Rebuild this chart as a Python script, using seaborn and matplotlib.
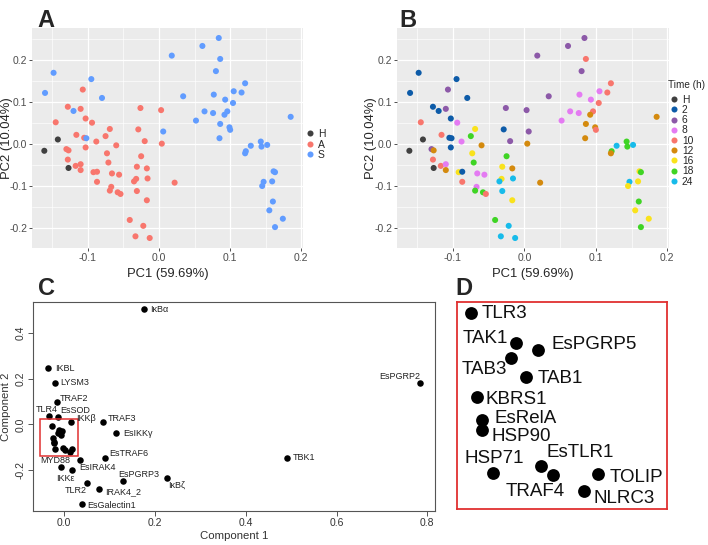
import numpy as np
import pandas as pd
import matplotlib
matplotlib.use("Agg")
import matplotlib.pyplot as plt
import seaborn as sns
from matplotlib.patches import Rectangle
from matplotlib.ticker import MultipleLocator, FormatStrFormatter

# ---------------- Data: PCA (panels A and B) ----------------
pc1 = [-0.142, -0.161, -0.127,
       -0.107, -0.128, -0.110, -0.026, 0.003, -0.145, -0.103, -0.094, -0.069, -0.029,
       -0.116, -0.105, -0.075, -0.088, -0.020, 0.004, -0.060, -0.103, -0.130, -0.127,
       -0.073, -0.025, -0.128, -0.071, -0.117, -0.110, -0.110, -0.031, -0.017, -0.092,
       -0.087, -0.066, -0.056, -0.087, -0.032, -0.035, -0.016, 0.022, -0.067, -0.069,
       -0.058, -0.054, -0.031, -0.017, -0.041, -0.022, -0.033, -0.013,
       0.018, -0.148, -0.095, -0.160, -0.080, -0.120, 0.006, -0.102,
       0.084, 0.061, 0.086, 0.080, 0.121, 0.034, 0.077, 0.105, 0.116, 0.093, 0.104,
       0.064, 0.076, 0.096, 0.092, 0.052, 0.185, 0.086, 0.099, 0.100, 0.085, 0.143,
       0.144, 0.152, 0.129, 0.122, 0.121, 0.161, 0.163, 0.147, 0.159, 0.145, 0.160,
       0.155, 0.174, 0.163]
pc2 = [0.011, -0.016, -0.057,
       0.130, 0.089, 0.084, 0.086, 0.081, 0.052, 0.061, 0.051, 0.036, 0.035,
       0.022, 0.015, 0.019, 0.006, 0.007, 0.001, -0.003, -0.008, -0.012, -0.015,
       -0.022, -0.029, -0.037, -0.044, -0.052, -0.048, -0.062, -0.054, -0.058, -0.067,
       -0.066, -0.070, -0.073, -0.090, -0.083, -0.089, -0.082, -0.092, -0.102, -0.111,
       -0.115, -0.119, -0.112, -0.134, -0.181, -0.195, -0.220, -0.224,
       0.211, 0.170, 0.155, 0.122, 0.110, 0.079, 0.030, 0.014,
       0.253, 0.234, 0.203, 0.174, 0.145, 0.114, 0.118, 0.126, 0.123, 0.106, 0.098,
       0.078, 0.074, 0.078, 0.070, 0.056, 0.065, 0.048, 0.040, 0.034, 0.014, 0.006,
       -0.006, -0.002, -0.004, -0.017, -0.022, -0.065, -0.067, -0.090, -0.089, -0.100,
       -0.137, -0.158, -0.178, -0.198]
group = (["H"] * 3) + (["A"] * 48) + (["S"] * 44)
time_h = ["H", "H", "H",
          "6", "2", "6", "6", "6", "10", "2", "8", "16", "2",
          "10", "2", "18", "8", "6", "12", "12", "2", "6", "12",
          "16", "18", "10", "18", "10", "8", "12", "16", "12", "16",
          "2", "8", "8", "10", "16", "24", "24", "12", "8", "18",
          "18", "10", "24", "16", "18", "24", "24", "24",
          "6", "2", "2", "2", "2", "2", "6", "2",
          "6", "6", "10", "6", "10", "6", "8", "8", "10", "8", "10",
          "8", "8", "10", "12", "8", "12", "12", "12", "10", "12", "18",
          "18", "24", "24", "18", "12", "16", "18", "24", "16", "16", "18",
          "16", "16", "18"]
group_levels = ["H", "A", "S"]
time_levels = ["H", "2", "6", "8", "10", "12", "16", "18", "24"]

# ---------------- Data: gene loadings (panel C) ----------------
genes_c = ["IκBα", "IKBL", "LYSM3", "TRAF2", "TLR4", "EsSOD", "IKKβ", "TRAF3", "EsIKKγ",
           "EsTRAF6", "MYD88", "IKKε", "EsIRAK4", "EsPGRP3", "IκBζ", "TLR2", "IRAK4_2",
           "EsGalectin1", "TBK1", "EsPGRP2"]
comp1_c = [0.176, -0.035, -0.021, -0.017, -0.033, -0.014, 0.015, 0.085, 0.115,
           0.089, 0.035, -0.007, 0.017, 0.129, 0.226, 0.049, 0.077,
           0.040, 0.491, 0.784]
comp2_c = [0.506, 0.247, 0.184, 0.098, 0.038, 0.032, 0.012, 0.012, -0.038,
           -0.148, -0.155, -0.187, -0.200, -0.247, -0.236, -0.255, -0.282,
           -0.348, -0.148, 0.184]

# ---------------- Data: zoomed cluster (panel D, also inside C box) ----------------
genes_z = ["TLR3", "TAK1", "EsPGRP5", "TAB3", "TAB1", "KBRS1", "EsRelA", "HSP90",
           "HSP71", "EsTLR1", "TRAF4", "TOLIP", "NLRC3"]
comp1_z = [-0.0272, -0.0116, -0.0041, -0.0134, -0.0082, -0.0252, -0.0233, -0.0233,
           -0.0197, -0.0029, 0.0012, 0.0169, 0.0120]
comp2_z = [-0.0073, -0.0263, -0.0304, -0.0357, -0.0478, -0.0604, -0.0753, -0.0813,
           -0.1090, -0.1043, -0.1099, -0.1093, -0.1201]

# ---------------- Styles / layout ----------------
GROUP_COLORS = {"H": "#404040", "A": "#F8766D", "S": "#619CFF"}
TIME_COLORS = {"H": "#404040", "2": "#0D5BA8", "6": "#8C59A8", "8": "#E47BF2",
               "10": "#F8766D", "12": "#D48A0E", "16": "#F9E21C", "18": "#3FD424",
               "24": "#17BBEA"}
ZOOM_BOX_X = (-0.0536, 0.0308)
ZOOM_BOX_Y = (-0.1361, 0.0219)
C_XLIM = (-0.069, 0.817)
C_YLIM = (-0.378, 0.537)
D_XLIM = (-0.0319, 0.0407)
D_YLIM = (-0.132, -0.0003)

# label offsets in pixels (dx, dy, ha)
C_LABEL_POS = {
    "IκBα": (5.7, 0, "left"), "IKBL": (6.3, 0, "left"), "LYSM3": (5.7, 0, "left"),
    "TRAF2": (3.3, 3.3, "left"), "TLR4": (-2.3, 6.3, "center"), "EsSOD": (2, 6.3, "left"),
    "IKKβ": (4.7, 3.3, "left"), "TRAF3": (5.3, 3.3, "left"), "EsIKKγ": (6.3, 0, "left"),
    "EsTRAF6": (4.3, 4.7, "left"), "MYD88": (-10, -1, "right"), "IKKε": (4, -11.3, "center"),
    "EsIRAK4": (7, 2.7, "left"), "EsPGRP3": (15.7, 6.7, "center"), "IκBζ": (9.3, -7, "center"),
    "TLR2": (-10.7, -8.3, "center"), "IRAK4_2": (5.7, -2.7, "left"),
    "EsGalectin1": (5, -1.3, "left"), "TBK1": (6, 0.7, "left"), "EsPGRP2": (-20.3, 6.3, "center"),
}
D_LABEL_POS = {
    "TLR3": (10.7, 0, "left"), "TAK1": (-7.7, 4.3, "right"), "EsPGRP5": (14, 5, "left"),
    "TAB3": (-4.3, -12, "right"), "TAB1": (11.3, -1.3, "left"), "KBRS1": (9.3, -2.7, "left"),
    "EsRelA": (12.7, 1.7, "left"), "HSP90": (9.3, -6.7, "left"), "HSP71": (1.7, 14.3, "center"),
    "EsTLR1": (5.3, 13.7, "left"), "TRAF4": (-18.3, -16.7, "center"), "TOLIP": (11, -4.3, "left"),
    "NLRC3": (9, -8.3, "left"),
}

sns.set_theme(style="darkgrid", rc={"axes.facecolor": "#EBEBEB", "grid.color": "white"})
plt.rcParams["font.family"] = ["Liberation Sans", "DejaVu Sans"]

W, H = 708, 545
fig = plt.figure(figsize=(W / 100, H / 100), dpi=100)
fig.patch.set_facecolor("white")


def fax(l, t, r, b):
    return fig.add_axes([l / W, 1 - b / H, (r - l) / W, (b - t) / H])


df = pd.DataFrame({"PC1": pc1, "PC2": pc2, "Group": group, "Time (h)": time_h})
xr = (min(pc1), max(pc1))
yr = (min(pc2), max(pc2))
xl = (xr[0] - 0.05 * (xr[1] - xr[0]), xr[1] + 0.05 * (xr[1] - xr[0]))
yl = (yr[0] - 0.05 * (yr[1] - yr[0]), yr[1] + 0.05 * (yr[1] - yr[0]))


def style_gg(ax, ylab_x):
    ax.set_xlim(xl)
    ax.set_ylim(yl)
    ax.xaxis.set_major_locator(MultipleLocator(0.1))
    ax.yaxis.set_major_locator(MultipleLocator(0.1))
    ax.xaxis.set_minor_locator(MultipleLocator(0.05))
    ax.yaxis.set_minor_locator(MultipleLocator(0.05))
    ax.xaxis.set_major_formatter(FormatStrFormatter("%.1f"))
    ax.yaxis.set_major_formatter(FormatStrFormatter("%.1f"))
    ax.grid(which="major", color="white", lw=0.9)
    ax.grid(which="minor", color="white", lw=0.45)
    ax.set_axisbelow(True)
    for s in ax.spines.values():
        s.set_visible(False)
    ax.tick_params(which="major", length=2.2, width=0.6, color="#333333", direction="out",
                   labelsize=7.5, labelcolor="#4D4D4D", pad=1.2, bottom=True, left=True)
    ax.tick_params(which="minor", length=0)
    ax.set_xlabel("PC1 (59.69%)", fontsize=9.4)
    ax.set_ylabel("PC2 (10.04%)", fontsize=9.4)
    ax.xaxis.set_label_coords(0.5, -0.092)
    ax.yaxis.set_label_coords(ylab_x, 0.5)


def resize_handles(leg, size):
    for h in leg.legend_handles:
        if hasattr(h, "set_sizes"):
            h.set_sizes([size])
        elif hasattr(h, "set_markersize"):
            h.set_markersize(np.sqrt(size))


# ---- Panel A ----
axA = fax(32, 28, 303, 248)
sns.scatterplot(data=df, x="PC1", y="PC2", hue="Group", hue_order=group_levels,
                palette=GROUP_COLORS, s=19, linewidth=0, ax=axA)
style_gg(axA, -0.070)
sns.move_legend(axA, loc="upper left", bbox_to_anchor=(305 / W, 1 - 129 / H),
                bbox_transform=fig.transFigure, frameon=False, title=None, fontsize=7.5,
                handlelength=1.0, handletextpad=0.25, labelspacing=0.05, borderpad=0,
                borderaxespad=0)
resize_handles(axA.get_legend(), 19)

# ---- Panel B ----
axB = fax(397, 28, 669, 248)
sns.scatterplot(data=df, x="PC1", y="PC2", hue="Time (h)", hue_order=time_levels,
                palette=TIME_COLORS, s=19, linewidth=0, ax=axB)
style_gg(axB, -0.0735)
sns.move_legend(axB, loc="upper left", bbox_to_anchor=(668 / W, 1 - 80 / H),
                bbox_transform=fig.transFigure, frameon=False, title="Time (h)",
                fontsize=7.4, title_fontsize=7.2, handlelength=1.2, handletextpad=0.15,
                labelspacing=0.02, borderpad=0, borderaxespad=0)
legB = axB.get_legend()
legB._legend_box.align = "left"
legB._legend_box.sep = 3.5
resize_handles(legB, 19)

# ---- Panel C ----
axC = fax(33, 302, 435, 510.7)
axC.set_facecolor("white")
dfc = pd.DataFrame({"Component 1": comp1_c + comp1_z, "Component 2": comp2_c + comp2_z})
sns.scatterplot(data=dfc, x="Component 1", y="Component 2", color="black", s=22,
                linewidth=0, ax=axC)
axC.set_xlim(C_XLIM)
axC.set_ylim(C_YLIM)
axC.grid(False)
for s in axC.spines.values():
    s.set_visible(True)
    s.set_color("#555555")
    s.set_linewidth(0.8)
axC.xaxis.set_major_locator(MultipleLocator(0.2))
axC.yaxis.set_major_locator(MultipleLocator(0.2))
axC.xaxis.set_major_formatter(FormatStrFormatter("%.1f"))
axC.yaxis.set_major_formatter(FormatStrFormatter("%.1f"))
axC.tick_params(length=3.5, width=0.7, color="#555555", direction="out", labelsize=7.5,
                labelcolor="#333333", pad=2, bottom=True, left=True)
plt.setp(axC.get_yticklabels(), rotation=90, va="center")
axC.set_xlabel("Component 1", fontsize=8.2, color="#333333", labelpad=2)
axC.set_ylabel("Component 2", fontsize=8.2, color="#333333", labelpad=3)
for g, x, y in zip(genes_c, comp1_c, comp2_c):
    dx, dy, ha = C_LABEL_POS[g]
    axC.annotate(g, (x, y), xytext=(dx, dy), textcoords="offset pixels", ha=ha,
                 va="center", fontsize=6.5, color="#222222")
axC.add_patch(Rectangle((ZOOM_BOX_X[0], ZOOM_BOX_Y[0]), ZOOM_BOX_X[1] - ZOOM_BOX_X[0],
                        ZOOM_BOX_Y[1] - ZOOM_BOX_Y[0], fill=False, ec="#E03030", lw=1.1))

# ---- Panel D ----
axD = fax(457.3, 302.3, 667.3, 509.3)
axD.set_facecolor("white")
dfz = pd.DataFrame({"c1": comp1_z, "c2": comp2_z})
sns.scatterplot(data=dfz, x="c1", y="c2", color="black", s=85, linewidth=0, ax=axD)
axD.set_xlim(D_XLIM)
axD.set_ylim(D_YLIM)
axD.grid(False)
axD.set_xticks([])
axD.set_yticks([])
axD.set_xlabel("")
axD.set_ylabel("")
for s in axD.spines.values():
    s.set_visible(True)
    s.set_color("#E03030")
    s.set_linewidth(1.3)
for g, x, y in zip(genes_z, comp1_z, comp2_z):
    dx, dy, ha = D_LABEL_POS[g]
    axD.annotate(g, (x, y), xytext=(dx, dy), textcoords="offset pixels", ha=ha,
                 va="center", fontsize=13.5, color="#111111")

# ---- Panel letters ----
for lab, x, y in [("A", 37, 27), ("B", 399, 27), ("C", 38, 295), ("D", 455.5, 295)]:
    fig.text(x / W, 1 - y / H, lab, fontsize=17, fontweight="bold", ha="left",
             va="baseline")

fig.savefig("out.png", dpi=100, facecolor="white")
